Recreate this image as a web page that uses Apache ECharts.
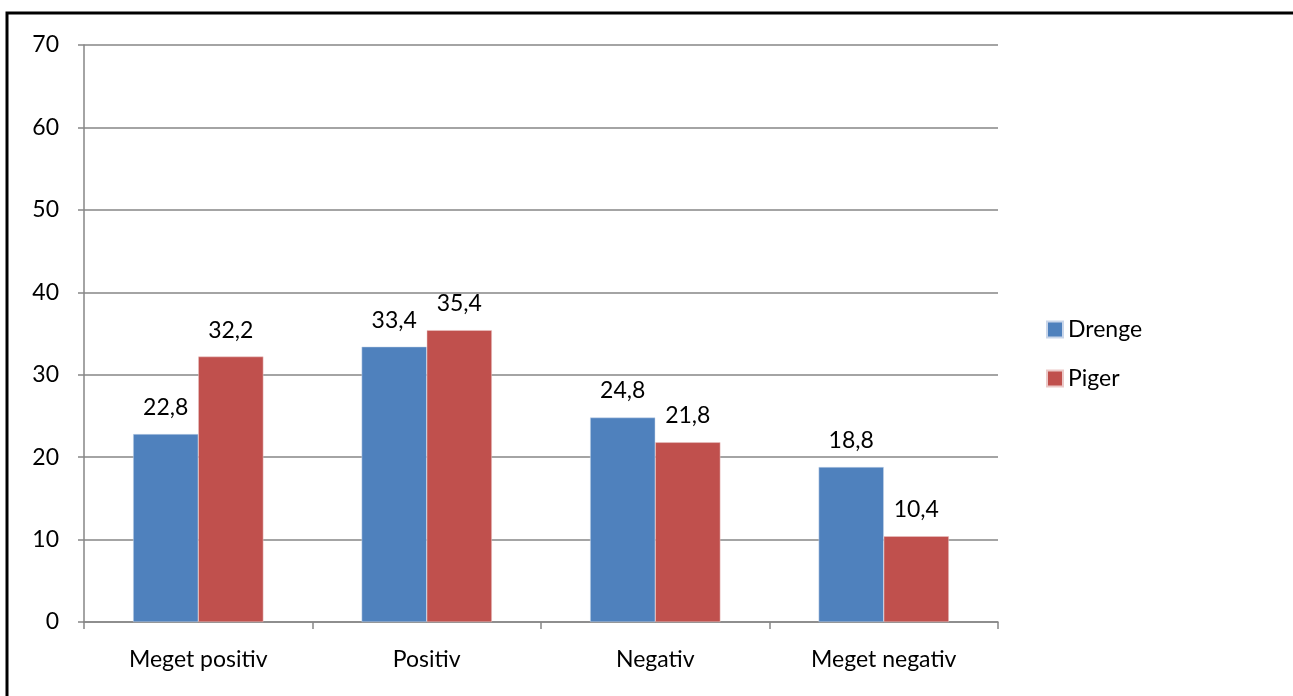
<!DOCTYPE html>
<html>
<head>
<meta charset="utf-8">
<script src="https://cdn.jsdelivr.net/npm/echarts@6/dist/echarts.min.js"></script>
<style>
    html, body { margin: 0; padding: 0; background: #fff; overflow: hidden; }
    #chart { width: 1293px; height: 696px; }
</style>
</head>
<body>
<div id="chart"></div>
<script>
// data
var categories = ['Meget positiv', 'Positiv', 'Negativ', 'Meget negativ'];
var drenge = [22.8, 33.4, 24.8, 18.8];
var piger = [32.2, 35.4, 21.8, 10.4];

let chart = echarts.init(document.getElementById('chart'));

function comma(p) {
    return String(p.value.toFixed(1)).replace('.', ',');
}

var font = 'Lato, "Open Sans", sans-serif';
var fsize = 23;

var option = {
    animation: false,
    textStyle: { fontFamily: font },
    graphic: [{
        type: 'rect',
        shape: { x: 7, y: 13, width: 1400, height: 800 },
        style: { fill: 'none', stroke: '#000', lineWidth: 3 }
    }],
    grid: {
        left: 84,
        right: 295,
        top: 45,
        bottom: 74,
        containLabel: false
    },
    legend: {
        orient: 'vertical',
        left: 1041,
        top: 313,
        itemWidth: 16,
        itemHeight: 16,
        itemGap: 26,
        icon: 'rect',
        textStyle: { fontFamily: font, fontSize: fsize, color: '#000' },
        data: ['Drenge', 'Piger']
    },
    xAxis: {
        type: 'category',
        data: categories,
        axisLine: { lineStyle: { color: '#868686', width: 1.5 } },
        axisTick: { show: true, length: 7, lineStyle: { color: '#868686', width: 1.5 } },
        axisLabel: { color: '#000', fontSize: fsize, fontFamily: font, margin: 26 }
    },
    yAxis: {
        type: 'value',
        min: 0,
        max: 70,
        interval: 10,
        axisLine: { show: true, lineStyle: { color: '#868686', width: 1.5 } },
        axisTick: { show: true, length: 6, lineStyle: { color: '#868686', width: 1.5 } },
        splitLine: { lineStyle: { color: '#868686', width: 1.5 } },
        axisLabel: { color: '#000', fontSize: fsize, fontFamily: font, margin: 25 }
    },
    series: [
        {
            name: 'Drenge',
            type: 'bar',
            data: drenge,
            barGap: '0%',
            barCategoryGap: '43%',
            itemStyle: { color: '#4F81BD', borderColor: '#c9d6ea', borderWidth: 0.5 },
            label: { show: true, position: 'top', distance: 15, color: '#000', fontSize: fsize, fontFamily: font, formatter: comma }
        },
        {
            name: 'Piger',
            type: 'bar',
            data: piger,
            itemStyle: { color: '#C0504D', borderColor: '#ebc9c8', borderWidth: 0.5 },
            label: { show: true, position: 'top', distance: 15, color: '#000', fontSize: fsize, fontFamily: font, formatter: comma }
        }
    ]
};

chart.setOption(option);

window.addEventListener('resize', function () {
    chart.resize();
});
</script>
</body>
</html>
